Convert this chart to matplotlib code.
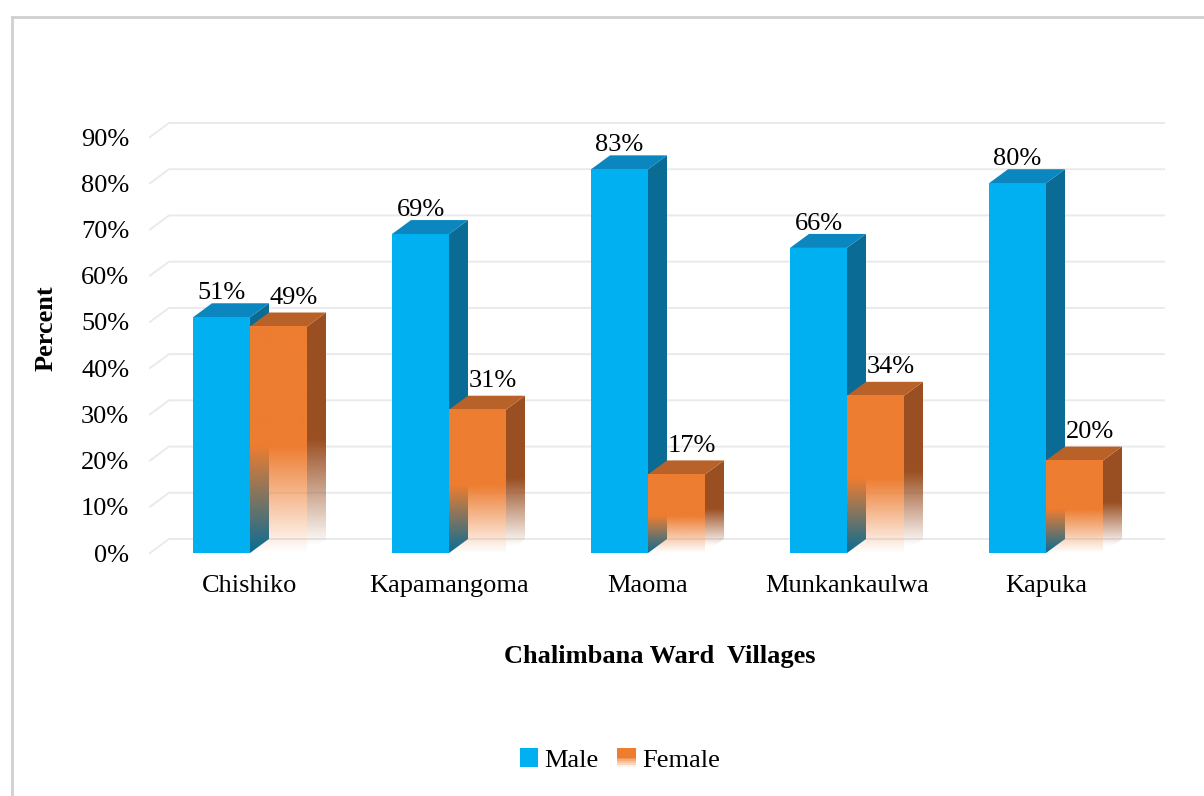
import numpy as np
import matplotlib
matplotlib.use("Agg")
import matplotlib.pyplot as plt
from matplotlib.patches import Polygon, Rectangle, Patch
from matplotlib.legend_handler import HandlerBase
from matplotlib.lines import Line2D
from matplotlib.colors import to_rgb

plt.rcParams['font.family'] = ['Liberation Serif', 'DejaVu Serif']

# ---------- data ----------
villages = ["Chishiko", "Kapamangoma", "Maoma", "Munkankaulwa", "Kapuka"]
male = [51, 69, 83, 66, 80]
female = [49, 31, 17, 34, 20]
yticks = [0, 10, 20, 30, 40, 50, 60, 70, 80, 90]
ytick_labels = [f"{t}%" for t in yticks]

# ---------- style ----------
FS = 19
W = 0.2864          # bar width (category units)
DX, DY = 0.0955, 3.03   # fake 3D depth offset
FADE = 0.47         # fraction of female bar height that fades out
MALE_FRONT, MALE_TOP, MALE_SIDE = "#00B0F0", "#0B86BE", "#0A6C94"
FEM_FRONT, FEM_TOP, FEM_SIDE = "#ED7D31", "#B8622A", "#9A4F22"
GRID = "#EAEAEA"

fig = plt.figure(figsize=(12.04, 7.96), dpi=100)
ax = fig.add_axes([150 / 1204, 243 / 796, 995 / 1204, 416 / 796])
XL = (-0.5025, 4.4975)


def grad_image(ax, color, extent, ys_alpha, clip=None, z=3):
    rgb = np.array(to_rgb(color))
    n = len(ys_alpha)
    arr = np.zeros((n, 1, 4))
    arr[:, 0, :3] = rgb
    arr[:, 0, 3] = ys_alpha
    im = ax.imshow(arr, extent=extent, origin="lower", aspect="auto",
                   interpolation="bilinear", zorder=z)
    if clip is not None:
        im.set_clip_path(clip)
    return im


# back-wall gridlines with the slanted floor join
for t in yticks:
    ax.plot([XL[0], XL[0] + DX, XL[1] + DX], [t, t + DY, t + DY],
            color=GRID, lw=1.4, zorder=0, clip_on=False)

for i, (m, f) in enumerate(zip(male, female)):
    # male box
    x0, x1 = i - W, i
    ax.add_patch(Polygon([(x1, 0), (x1 + DX, DY), (x1 + DX, m + DY), (x1, m)],
                         closed=True, fc=MALE_SIDE, ec="none", zorder=2))
    ax.add_patch(Polygon([(x0, m), (x1, m), (x1 + DX, m + DY), (x0 + DX, m + DY)],
                         closed=True, fc=MALE_TOP, ec="none", zorder=2))
    ax.bar(x0, m, width=W, align="edge", color=MALE_FRONT, zorder=2)
    ax.text((x0 + x1) / 2, m + DY - 0.2, f"{m}%", ha="center", va="bottom",
            fontsize=FS, zorder=6)

    # female box, fading towards the floor
    x0, x1 = i, i + W
    n = 256
    side = Polygon([(x1, 0), (x1 + DX, DY), (x1 + DX, f + DY), (x1, f)],
                   closed=True, transform=ax.transData)
    ys = np.linspace(0, f + DY, n)
    a = np.clip((ys - DY * 0.5) / (FADE * f), 0, 1)
    grad_image(ax, FEM_SIDE, (x1, x1 + DX, 0, f + DY), a, clip=side, z=3)
    ax.add_patch(Polygon([(x0, f), (x1, f), (x1 + DX, f + DY), (x0 + DX, f + DY)],
                         closed=True, fc=FEM_TOP, ec="none", zorder=3))
    ys = np.linspace(0, f, n)
    a = np.clip(ys / (FADE * f), 0, 1)
    grad_image(ax, FEM_FRONT, (x0, x1, 0, f), a, z=4)
    ax.text((x0 + x1) / 2 + DX * 0.8, f + DY + 0.8, f"{f}%", ha="center",
            va="bottom", fontsize=FS, zorder=6)

ax.set_xlim(*XL)
ax.set_ylim(0, 90)
ax.set_xticks(range(len(villages)))
ax.set_xticklabels(villages, fontsize=FS)
ax.set_yticks(yticks)
ax.set_yticklabels(ytick_labels, fontsize=FS)
ax.tick_params(axis="x", length=0, pad=16)
ax.tick_params(axis="y", length=0, pad=15)
for s in ax.spines.values():
    s.set_visible(False)
ax.patch.set_visible(False)

ax.set_ylabel("Percent", fontsize=FS, fontweight="bold")
ax.yaxis.set_label_coords(-0.0925, 0.540)
ax.set_xlabel("Chalimbana Ward  Villages", fontsize=FS, fontweight="bold")
ax.xaxis.set_label_coords(0.5126, -0.221)


# ---------- legend ----------
class FadeHandler(HandlerBase):
    def create_artists(self, legend, orig_handle, xdescent, ydescent,
                       width, height, fontsize, trans):
        arts = []
        k = 10
        for j in range(k):
            y = -ydescent + height * j / k
            alpha = min(1.0, (j + 0.5) / (k * 0.55))
            arts.append(Rectangle((-xdescent, y), width, height / k + 0.3,
                                  fc=FEM_FRONT, ec="none", alpha=alpha,
                                  transform=trans))
        return arts


h_m = Patch(fc=MALE_FRONT, ec="none")
h_f = Patch(fc=FEM_FRONT, ec="none")
fig.legend([h_m, h_f], ["Male", "Female"], loc="center",
           bbox_to_anchor=(620 / 1204, 1 - 760 / 796), ncol=2, frameon=False,
           fontsize=FS, handlelength=0.7, handleheight=0.7,
           handletextpad=0.25, columnspacing=0.7,
           handler_map={h_f: FadeHandler()})

# outer chart border (only top and left edges are inside the picture)
fig.add_artist(Line2D([12 / 1204, 12 / 1204], [0, 1 - 17 / 796],
                      transform=fig.transFigure, color="#D0D0D0", lw=2))
fig.add_artist(Line2D([12 / 1204, 1], [1 - 17 / 796, 1 - 17 / 796],
                      transform=fig.transFigure, color="#D0D0D0", lw=2))

fig.savefig("out.png", dpi=100)
